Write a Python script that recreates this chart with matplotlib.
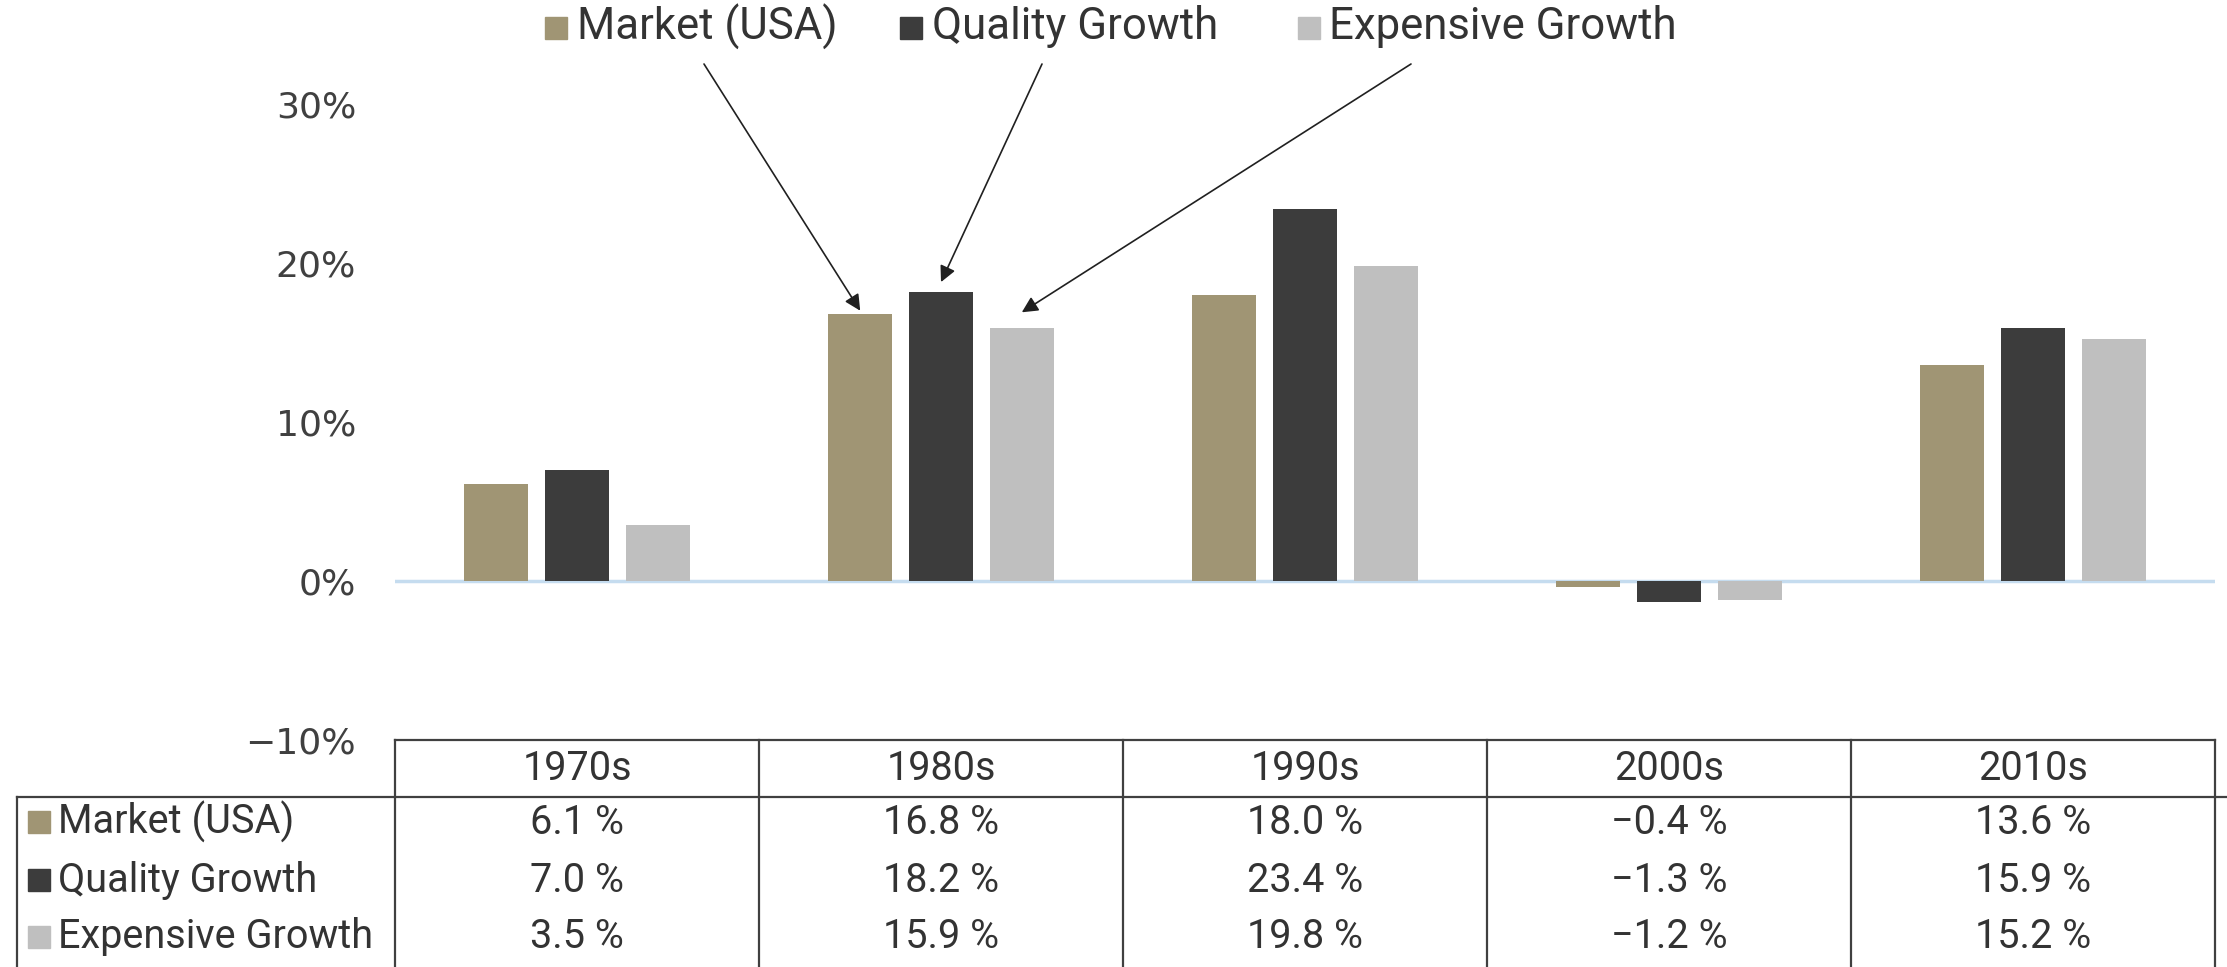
import matplotlib
matplotlib.use("Agg")
import matplotlib.pyplot as plt
from matplotlib.patches import Rectangle
from matplotlib.transforms import blended_transform_factory

# ---- data ----
categories = ["1970s", "1980s", "1990s", "2000s", "2010s"]
series_names = ["Market (USA)", "Quality Growth", "Expensive Growth"]
market = [6.1, 16.8, 18.0, -0.4, 13.6]
quality = [7.0, 18.2, 23.4, -1.3, 15.9]
expensive = [3.5, 15.9, 19.8, -1.2, 15.2]
yticks = [-10, 0, 10, 20, 30]
ytick_labels = ["\u221210%", "0%", "10%", "20%", "30%"]

colors = ["#A09574", "#3C3C3C", "#BFBFBF"]
series = [market, quality, expensive]

W, H = 2227, 967
fig = plt.figure(figsize=(W / 100, H / 100), dpi=100)

def fx(px):
    return px / W

def fy(py):
    return 1 - py / H

TXT = ["Roboto", "DejaVu Sans"]
TXTC = "#333333"
WT = "normal"

ax = fig.add_axes([fx(395), fy(740), fx(2215) - fx(395), fy(104) - fy(740)])
ax.set_xlim(-0.5, len(categories) - 0.5)
ax.set_ylim(-10, 30)

bw = 0.175
offs = [-0.222, 0.0, 0.222]
for vals, c, o in zip(series, colors, offs):
    ax.bar([i + o for i in range(len(categories))], vals, width=bw, color=c,
           edgecolor="none", zorder=2)

ax.axhline(0, color="#C5DCEF", lw=2.5, zorder=1)
for s in ax.spines.values():
    s.set_visible(False)
ax.set_xticks([])
ax.set_yticks(yticks)
ax.set_yticklabels(ytick_labels)
ax.tick_params(axis="y", length=0, pad=28, labelsize=26, labelcolor="#404040")
for t in ax.get_yticklabels():
    t.set_fontfamily("DejaVu Sans")

# ---- legend at top ----
leg_sq = [545, 900, 1298]
leg_tx = [577, 932, 1329]
for name, c, sx, tx in zip(series_names, colors, leg_sq, leg_tx):
    fig.patches.append(Rectangle((fx(sx), fy(39)), fx(22), 22 / H, color=c,
                                 transform=fig.transFigure, figure=fig))
    fig.text(fx(tx), fy(27), name, fontsize=31.5, family=TXT, fontweight=WT,
             color=TXTC, va="center", ha="left")

# ---- arrows from legend to 1980s bars ----
arrow_starts = [(704, 64), (1042, 64), (1411, 64)]
arrow_pad = [0.2, 0.6, 1.0]
for k, (vals, o) in enumerate(zip(series, offs)):
    sx, sy = arrow_starts[k]
    ax.annotate("", xy=(1 + o, vals[1] + arrow_pad[k]), xycoords="data",
                xytext=(fx(sx), fy(sy)), textcoords="figure fraction",
                arrowprops=dict(arrowstyle="-|>", color="#202020", lw=1.2,
                                mutation_scale=24, shrinkA=0, shrinkB=0),
                annotation_clip=False)

# ---- table below ----
tr = blended_transform_factory(ax.transData, fig.transFigure)
LC = "#404040"
LW = 1.6
n = len(categories)
y_top, y_head, y_bot = fy(740), fy(797), fy(968)
ax.plot([-0.5, n - 0.5], [y_top, y_top], transform=tr, color=LC, lw=LW, clip_on=False)
fig.add_artist(plt.Line2D([fx(17), 1], [y_head, y_head], color=LC, lw=LW))
for i in range(n + 1):
    ax.plot([i - 0.5, i - 0.5], [y_top, y_bot], transform=tr, color=LC, lw=LW, clip_on=False)
fig.add_artist(plt.Line2D([fx(17), fx(17)], [y_head, y_bot], color=LC, lw=LW))

FS = 28.5
for i, cat in enumerate(categories):
    ax.text(i, fy(768), cat, transform=tr, ha="center", va="center", fontsize=FS,
            family=TXT, fontweight=WT, color=TXTC)

row_y = [822, 880, 937]
for name, vals, c, ry in zip(series_names, series, colors, row_y):
    fig.patches.append(Rectangle((fx(28), fy(ry + 11)), fx(22), 22 / H, color=c,
                                 transform=fig.transFigure, figure=fig))
    fig.text(fx(58), fy(ry), name, fontsize=FS, family=TXT, fontweight=WT,
             color=TXTC, va="center", ha="left")
    for i, v in enumerate(vals):
        s = f"{v:.1f} %".replace("-", "\u2212")
        ax.text(i, fy(ry), s, transform=tr, ha="center", va="center", fontsize=FS,
                family=TXT, fontweight=WT, color=TXTC)

fig.savefig("out.png", dpi=100, facecolor="white")
